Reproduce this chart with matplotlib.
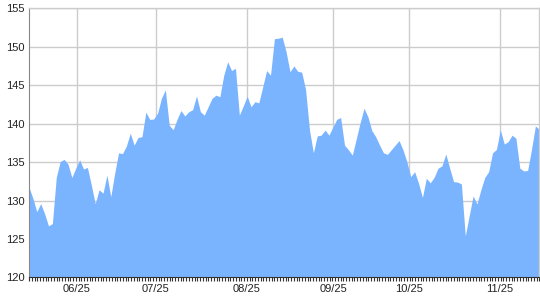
import numpy as np
import matplotlib
matplotlib.use('Agg')
import matplotlib.pyplot as plt


# daily closing values
prices = [
    131.7, 130.3, 128.55, 129.6, 128.3, 126.7, 127.0, 133.0, 135.05, 135.35,
    134.75, 133.0, 134.2, 135.3, 134.1, 134.3, 132.0, 129.6, 131.4, 130.95,
    133.3, 130.5, 133.55, 136.2, 136.1, 137.1, 138.75, 137.2, 138.2, 138.3,
    141.5, 140.55, 140.6, 141.35, 143.3, 144.4, 139.8, 139.2, 140.55, 141.7,
    141.0, 141.55, 141.8, 143.6, 141.55, 141.1, 142.2, 143.3, 143.7, 143.5,
    146.3, 148.05, 146.9, 147.2, 141.1, 142.3, 143.55, 142.2, 142.85, 142.7,
    144.8, 146.9, 146.3, 151.05, 151.1, 151.25, 149.35, 146.75, 147.5, 146.8,
    146.7, 144.45, 139.2, 136.2, 138.4, 138.5, 139.15, 138.5, 139.55, 140.55,
    140.8, 137.2, 136.6, 135.9, 138.0, 140.1, 142.0, 140.9, 139.1, 138.3,
    137.2, 136.2, 136.0, 136.6, 137.2, 137.8, 136.6, 135.05, 133.1, 133.75,
    132.25, 130.4, 132.9, 132.3, 133.0, 134.2, 134.5, 136.05, 134.2, 132.45,
    132.4, 132.15, 125.4, 128.0, 130.6, 129.55, 131.4, 133.0, 133.75, 136.2,
    136.65, 139.2, 137.35, 137.65, 138.5, 138.1, 134.2, 133.85, 133.9, 136.65,
    139.7, 139.25,
]

month_labels = ['06/25', '07/25', '08/25', '09/25', '10/25', '11/25']
month_index = [12.2, 32.5, 55.9, 78.1, 97.5, 120.8]
n_days = 186

y_ticks = [120, 125, 130, 135, 140, 145, 150, 155]


x = np.arange(len(prices))

fig = plt.figure(figsize=(5.4, 3.0), dpi=100)
ax = fig.add_axes([29 / 540, 22.6 / 300, 510.3 / 540, 269.1 / 300])

ax.fill_between(x, prices, 120, color='#7ab4ff', linewidth=0, zorder=2)

ax.set_xlim(0, len(prices) - 1)
ax.set_ylim(120, 155)

ax.set_yticks(y_ticks)
ax.set_xticks(month_index)
ax.set_xticklabels(month_labels)
ax.set_xticks(np.linspace(0, len(prices) - 1, n_days), minor=True)

ax.grid(True, which='major', color='#cccccc', linewidth=1, zorder=1)
ax.set_axisbelow(True)

for name in ['top', 'right']:
    ax.spines[name].set_color('#cccccc')
    ax.spines[name].set_linewidth(1)
ax.spines['left'].set_color('#888888')
ax.spines['bottom'].set_color('#333333')
for name in ax.spines:
    ax.spines[name].set_zorder(3)

ax.tick_params(axis='y', length=0, pad=3, labelsize=8, labelcolor='#222222')
ax.tick_params(axis='x', which='major', length=0, pad=5, labelsize=8, labelcolor='#222222')
ax.tick_params(axis='x', which='minor', length=3, width=0.8, color='#333333')

for label in ax.get_xticklabels() + ax.get_yticklabels():
    label.set_fontfamily('Liberation Sans')

fig.savefig('out.png', dpi=100)
